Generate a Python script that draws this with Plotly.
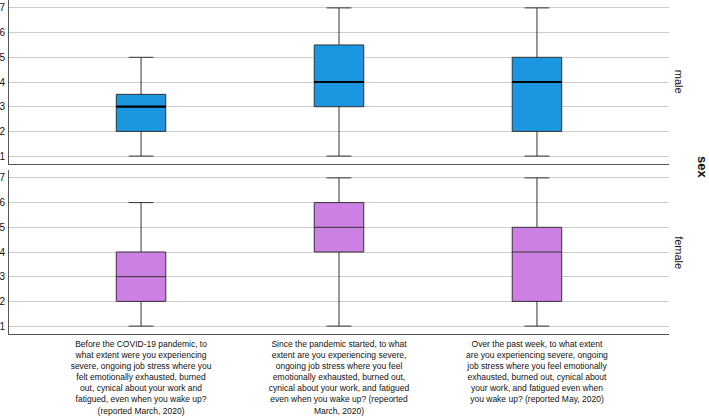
import plotly.graph_objects as go

categories = [
    "Before the COVID-19 pandemic, to<br>what extent were you experiencing<br>severe, ongoing job stress where you<br>felt emotionally exhausted, burned<br>out, cynical about your work and<br>fatigued, even when you wake up?<br>(reported March, 2020)",
    "Since the pandemic started, to what<br>extent are you experiencing severe,<br>ongoing job stress where you feel<br>emotionally exhausted, burned out,<br>cynical about your work, and fatigued<br>even when you wake up? (repeorted<br>March, 2020)",
    "Over the past week, to what extent<br>are you experiencing severe, ongoing<br>job stress where you feel emotionally<br>exhausted, burned out, cynical about<br>your work, and fatigued even when<br>you wake up? (reported May, 2020)",
]
x_pos = [0, 1, 2]

male_low = [1, 1, 1]
male_q1 = [2, 3, 2]
male_med = [3, 4, 4]
male_q3 = [3.5, 5.5, 5]
male_high = [5, 7, 7]

female_low = [1, 1, 1]
female_q1 = [2, 4, 2]
female_med = [3, 5, 4]
female_q3 = [4, 6, 5]
female_high = [6, 7, 7]

y_ticks = [1, 2, 3, 4, 5, 6, 7]
panel_labels = ["male", "female"]
facet_title = "sex"

BLUE = "#1b97e2"
PURPLE = "#cc80e3"
EDGE = "#333333"
BOX_W = 0.25

fig = go.Figure()

fig.add_trace(go.Box(
    x=x_pos, q1=male_q1, median=male_med, q3=male_q3,
    lowerfence=male_low, upperfence=male_high,
    fillcolor=BLUE, line=dict(color=EDGE, width=1), whiskerwidth=0.5,
    width=BOX_W, xaxis="x", yaxis="y", showlegend=False, hoverinfo="skip",
))
fig.add_trace(go.Box(
    x=x_pos, q1=female_q1, median=female_med, q3=female_q3,
    lowerfence=female_low, upperfence=female_high,
    fillcolor=PURPLE, line=dict(color=EDGE, width=1), whiskerwidth=0.5,
    width=BOX_W, xaxis="x2", yaxis="y2", showlegend=False, hoverinfo="skip",
))

# thicker median for male panel
mx, my = [], []
for xp, m in zip(x_pos, male_med):
    mx += [xp - BOX_W / 2, xp + BOX_W / 2, None]
    my += [m, m, None]
fig.add_trace(go.Scatter(x=mx, y=my, mode="lines", line=dict(color="black", width=2.2),
                         xaxis="x", yaxis="y", showlegend=False, hoverinfo="skip"))

font = dict(family="Liberation Sans, Arial, sans-serif", size=11, color="#111111")
xr = [-0.667, 2.667]
yax = dict(range=[0.68, 7.32], tickvals=y_ticks, showgrid=True, gridcolor="#cccccc",
           gridwidth=1, showline=True, linecolor="#555555", linewidth=1, zeroline=False,
           ticks="", tickfont=dict(size=10, color="#111111"), ticklabelstandoff=1,
           automargin=False)

fig.update_layout(
    width=709, height=420,
    margin=dict(l=9, r=40, t=0, b=86),
    plot_bgcolor="white", paper_bgcolor="white",
    font=font,
    xaxis=dict(domain=[0, 1], range=xr, anchor="y", tickvals=x_pos, showticklabels=False,
               showline=True, linecolor="#555555", linewidth=1, showgrid=False, zeroline=False,
               ticks="", automargin=False),
    yaxis=dict(domain=[0.509, 1], anchor="x", **yax),
    xaxis2=dict(domain=[0, 1], range=xr, anchor="y2", tickvals=x_pos, ticktext=categories,
                showline=True, linecolor="#555555", linewidth=1, showgrid=False, zeroline=False,
                ticks="", tickfont=dict(size=8.5, color="#111111"), tickangle=0,
                automargin=False, ticklabelstandoff=2),
    yaxis2=dict(domain=[0, 0.491], anchor="x2", **yax),
)

fig.add_annotation(text=panel_labels[0], xref="paper", yref="paper", x=1, y=0.755,
                   xanchor="center", yanchor="middle", xshift=10, textangle=90, showarrow=False,
                   font=dict(size=11, color="#111111"))
fig.add_annotation(text=panel_labels[1], xref="paper", yref="paper", x=1, y=0.245,
                   xanchor="center", yanchor="middle", xshift=10, textangle=90, showarrow=False,
                   font=dict(size=11, color="#111111"))
fig.add_annotation(text="<b>" + facet_title + "</b>", xref="paper", yref="paper", x=1, y=0.5,
                   xanchor="center", yanchor="middle", xshift=34, textangle=90, showarrow=False,
                   font=dict(size=13, color="#111111"))

fig.write_html("out.html", config={"displayModeBar": False},
               post_script="document.body.style.margin='0';document.body.style.overflow='hidden';")
